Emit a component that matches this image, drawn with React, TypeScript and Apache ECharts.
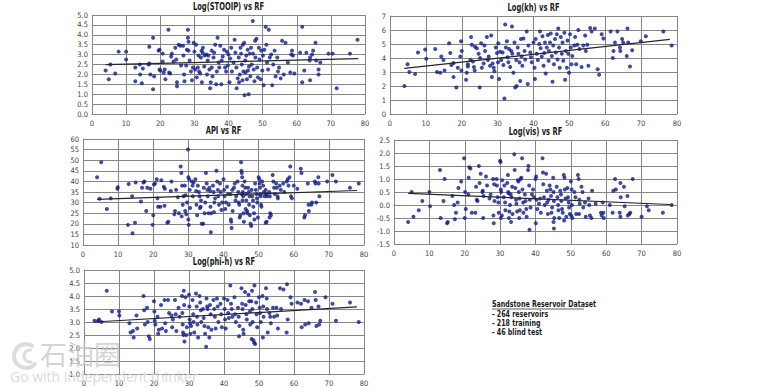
import React, { useEffect, useRef } from "react";
import * as echarts from "echarts";

const titles = ["Log(STOOIP) vs RF", "Log(kh) vs RF", "API vs RF", "Log(vis) vs RF", "Log(phi-h) vs RF"];
const xRange = [0, 80, 10];
const noteLines = ["Sandstone Reservoir Dataset", "- 264 reservoirs", "- 218 training", "- 46 blind test"];

const stooipData = [
  [4,2.2],[4.9,1.75],[5.4,2.5],[6.8,2.05],[7.8,3.15],[10,3.15],[10,2.75],[12.7,1.65],[12.7,2.35],[14,2.5],[14.1,2.0],[14.6,1.55],[14.9,2.3],
  [16.8,3.4],[16.6,2.5],[16.8,2.55],[17.1,2.0],[17.9,3.85],[17.9,1.25],[18.2,1.9],[19.5,3.2],[19.8,3.25],[19.8,2.25],[20,2.2],[20.7,3.05],
  [20.7,2.65],[21,2.1],[21.3,2.25],[21.5,1.75],[22.4,4.25],[22.6,2.1],[22.9,2.05],[23.2,2.9],[23.4,3.05],[23.9,2.65],[24.4,3.35],[24.7,2.75],
  [24.9,1.6],[24.9,1.4],[25.4,3.5],[25.9,3.45],[26.1,2.45],[26.7,3.45],[26.8,2.95],[27,2.0],[27.1,1.65],[27.6,2.45],[27.8,3.25],[28.1,4.25],
  [28.1,3.85],[28.3,3.65],[28.3,3.2],[28.6,2.7],[29,2.15],[29.3,1.7],[29.6,2.35],[29.8,3.6],[30,3.15],[30.2,2.25],[30.5,3.5],[30.7,1.85],
  [31,2.35],[31.2,2.95],[31.4,2.15],[31.7,2.05],[31.9,2.85],[32.1,3.2],[32.2,1.6],[32.4,3.1],[32.5,3.35],[32.9,2.4],[33,2.95],[33.5,3.0],
  [33.7,2.0],[33.9,2.7],[34.1,2.95],[34.4,2.25],[34.6,1.3],[34.8,1.6],[35.1,3.2],[35.1,2.35],[35.3,1.9],[35.6,2.85],[35.8,3.1],[36.1,3.5],
  [36.4,1.5],[36.6,2.15],[36.8,3.85],[37.1,2.6],[37.3,2.35],[37.6,3.45],[37.9,1.5],[38,2.7],[38.3,2.9],[38.7,3.25],[39,2.35],[39.3,2.15],
  [39.5,3.15],[39.8,2.45],[40,3.0],[40.3,1.6],[40.5,2.8],[40.8,3.35],[41,2.15],[41.5,2.6],[41.8,3.75],[42,3.1],[42.3,2.35],[42.4,1.3],
  [42.7,1.8],[43,2.85],[43.1,1.6],[43.3,2.0],[43.5,3.35],[43.7,3.05],[43.9,2.5],[44.1,1.7],[44.2,3.5],[44.4,2.15],[44.6,3.6],[44.7,0.95],
  [44.9,2.7],[45,2.1],[45.2,2.95],[45.4,1.75],[45.6,3.25],[45.7,2.2],[45.9,1.0],[46,2.4],[46.2,3.05],[46.4,1.9],[46.6,3.35],[46.8,2.5],
  [47.1,4.7],[47.2,3.05],[47.4,2.25],[47.6,1.65],[47.8,3.7],[47.9,2.85],[48.2,3.8],[48.4,2.35],[48.6,1.85],[48.9,3.35],[49.1,2.75],[49.4,1.75],
  [49.6,3.2],[49.9,2.2],[50.1,2.95],[50.3,1.45],[50.5,3.25],[50.9,4.4],[51.1,3.5],[51.3,2.6],[51.6,2.25],[51.8,4.25],[52.1,2.85],[52.5,3.0],
  [52.8,1.45],[53.1,2.5],[53.5,3.2],[53.8,1.9],[54.3,2.85],[54.5,2.15],[54.8,2.35],[55.3,1.8],[55.7,3.7],[56.2,2.0],[56.7,3.6],[57.4,2.6],
  [58.1,2.1],[58.4,3.0],[58.6,3.2],[58.9,2.95],[59.3,2.05],[61,3.1],[61.6,1.6],[61.6,4.4],[62.2,2.2],[62.8,3.1],[63.8,2.7],[63.9,2.85],
  [63.9,1.7],[64.5,3.0],[64.8,3.2],[65.5,3.6],[65.7,2.7],[66.4,2.0],[66.4,2.25],[66.9,2.6],[69.3,3.05],[70.5,3.05],[71.7,1.3],[75.6,3.05],[77.8,3.75]
];
const stooipTrend = [[4, 2.49], [78, 2.8]];

const khData = [
  [4,2.0],[4.9,3.55],[5.4,3.0],[7,2.85],[7.8,4.4],[9.8,4.6],[10.1,3.95],[12.6,4.65],[13.1,3.0],[14,2.95],[14.3,4.1],[14.9,3.85],[15.2,3.1],
  [16.5,5.05],[16.8,4.35],[17.1,3.5],[17.7,3.65],[17.7,2.65],[18.5,1.9],[18.9,3.3],[19.6,4.1],[19.8,5.2],[19.9,3.1],[20,4.5],[21.7,3.55],
  [21.2,2.45],[21.4,2.95],[21.7,3.4],[22.4,3.85],[22.6,5.5],[22.8,4.95],[23.1,3.75],[23.4,3.35],[23.6,3.1],[23.7,4.8],[24.2,4.7],[24.7,4.3],
  [25,1.9],[25.1,4.0],[25.4,5.05],[25.6,3.3],[26.1,3.6],[26.3,4.9],[26.5,4.5],[27,5.5],[27.3,3.85],[27.5,4.1],[27.9,3.45],[28.2,5.6],
  [28.4,2.65],[28.6,3.6],[28.9,3.3],[29.1,3.05],[29.5,4.75],[29.8,4.35],[30.1,3.7],[30.2,5.05],[30.4,2.5],[30.7,4.45],[31,3.85],[31.4,4.4],
  [31.6,3.5],[31.9,1.1],[32.1,6.4],[32.3,4.75],[32.6,5.2],[32.8,4.05],[33,3.7],[33.2,4.65],[33.5,3.35],[33.8,4.5],[34,6.25],[34.1,4.3],
  [34.4,2.95],[34.7,5.1],[34.9,1.9],[35.2,3.85],[35.3,2.0],[35.6,4.75],[35.8,4.3],[36.1,3.7],[36.3,2.35],[36.5,5.35],[36.7,4.1],[36.9,3.45],
  [37.2,5.4],[37.5,4.5],[37.7,3.9],[38.1,5.9],[38.4,2.15],[38.6,4.9],[39.1,4.4],[39.3,4.05],[39.5,3.7],[40,5.1],[40.3,3.3],[40.4,2.5],
  [40.6,5.35],[40.9,4.3],[41.2,3.85],[41.6,5.0],[41.8,5.9],[42,4.7],[42.3,4.1],[42.5,5.55],[42.8,3.45],[43,4.35],[43.2,5.1],[43.4,2.9],
  [43.7,4.75],[44,5.65],[44.2,3.8],[44.3,4.5],[44.6,5.1],[44.8,5.75],[45.1,4.15],[45.3,2.3],[45.5,4.9],[45.7,3.55],[46,5.35],[46.2,4.4],
  [46.5,5.7],[46.7,3.9],[46.9,6.1],[47.1,4.75],[47.3,3.3],[47.6,5.5],[47.9,4.3],[48.1,5.1],[48.3,3.8],[48.6,5.8],[48.8,2.45],[49,4.5],
  [49.3,3.3],[49.5,5.25],[49.7,4.3],[49.9,2.95],[50.2,5.7],[50.4,4.75],[50.6,3.55],[50.8,4.15],[51.4,4.9],[51.6,5.5],[51.9,3.55],[52.2,4.95],
  [52.5,6.0],[52.8,4.65],[53.4,3.35],[53.9,4.9],[54.4,5.6],[54.6,4.5],[55,4.95],[55.3,3.45],[55.8,6.15],[56.2,5.9],[57.1,6.1],[57.9,3.2],
  [58.3,2.8],[59,5.7],[59.5,5.4],[61.5,5.9],[62.1,4.0],[62.3,4.5],[62.7,5.1],[63.4,5.9],[64.1,4.75],[64.2,4.5],[64.7,5.35],[65,5.1],
  [66,4.15],[66.2,6.1],[66.4,5.1],[66.9,3.4],[67.5,4.55],[69.9,5.2],[71.3,5.55],[76.2,5.9],[78.5,4.9]
];
const khTrend = [[4, 3.26], [78, 5.33]];

const apiData = [
  [4,42],[4.7,31.8],[5.2,49],[6.8,27],[7.9,32],[9.8,36.5],[9.9,37.2],[12.8,19.5],[13,38.8],[14,33],[14.1,15.5],[14.8,20.5],[15,39.5],
  [16.5,30.5],[16.8,37],[17.2,39.5],[17.5,40],[18,26],[18.3,37],[19.2,36.5],[19.8,19.5],[20,24],[20.2,38.5],[20.5,39],[21,41],[21.2,32],
  [21.4,28],[22,28],[22.3,40.5],[23,37.5],[23.3,36.5],[23.2,28.5],[24,20.5],[24.3,21],[25,35.5],[25.2,40],[26,24.5],[26.2,26],[26.5,36],
  [27,32.5],[27.3,25],[27.8,47],[28,44],[28.2,38],[28.1,23.5],[28.4,29],[28.6,33],[29,38],[29.2,33.5],[29.1,26],[29.4,24.5],[29.6,30],
  [29.9,55],[30,42],[30.2,41],[30,22],[30.1,19.5],[30.4,36],[30.5,27.5],[31,40],[31.2,38],[31.5,39.5],[31.3,33],[32,41],[32.2,35.5],
  [32.3,29],[32.5,24],[32.7,38],[33,35],[33.2,33],[33.3,27.5],[33.5,28],[33.6,31],[33.8,20],[34.2,20],[34.4,37],[34.6,25],[34.8,30],
  [35,44],[35.2,39],[35.4,36],[35.5,33],[35.7,25],[36,37],[36.2,35.5],[36.3,28],[36.5,25],[36.4,16],[37,38],[37.2,35],[37.4,30],[37.6,32],
  [37.3,25.5],[38,45],[38.2,40],[38.4,36],[38.5,33],[38.7,29],[39,39],[39.2,35],[39.4,26.5],[39.6,30],[40,41],[40.2,36],[40.3,33],[40.5,27],
  [40.7,30],[41,37.5],[41.3,34],[41.5,29],[42,34],[42.1,22],[42.2,21],[42.3,18],[42.5,36],[42.6,26],[43,37],[43.2,39],[43.4,31],[43.6,33],
  [44,40],[44.2,35],[44.3,30],[44.5,29],[44.6,23],[44.8,24],[45,49],[45.1,45],[45.2,44],[45.3,42],[45.4,38],[45.5,35],[45.2,34],[45.6,33],
  [45.4,31],[45.7,25],[45.8,21],[46,40],[46.2,37],[46.4,34],[46.5,31],[46.3,27],[46.7,26],[46.8,25],[47,37],[47.2,35],[47.4,33],[47.3,29],
  [47.5,24],[47.7,20],[47.9,19],[48,36],[48.2,33],[48.4,31],[48.5,28],[48.7,25],[48.8,22],[49,39],[49.2,36],[49.4,34],[49.5,32],[49.6,30],
  [49.8,23],[50,42],[50.2,41],[50.3,39],[50.4,37],[50.5,34],[50.6,33],[50.7,29],[50.8,28],[51,40],[51.3,38],[51.5,35],[51.7,33],[52,36],
  [52.2,34],[52.4,33],[52,20.5],[52.3,21],[53,35],[53.2,33],[53.3,25],[53.5,24],[53.1,23],[54,43],[54.2,40],[54.4,37],[54.6,34],[55,39],
  [55.2,37],[55.4,33],[55.5,32],[56,38],[56.3,36],[57,39],[57.3,35],[58,40],[58.3,41],[58.5,38],[59,47],[58.8,42],[59.2,33],[59.5,32],
  [60,38],[61,36.5],[62,46],[62.2,44],[63,23],[63.2,24],[64,39],[64.2,29],[64.3,26],[65,29],[65.2,30],[66,40],[66.2,39],[66.4,30],[67,42],
  [67.1,39],[67.3,33],[69.5,40],[71,43],[72,40],[76,37],[78.5,39]
];
const apiTrend = [[4, 31.5], [78, 35.7]];

const visData = [
  [4,-0.65],[5,0.5],[5.5,-0.45],[7,-0.2],[8,0.15],[10,0.5],[10.2,-0.05],[13,1.35],[13.2,-0.5],[14,0.15],[14.3,1.0],[15,-0.7],[15.2,-0.65],
  [16.5,0.35],[17,0.0],[17.2,-0.55],[17.5,-0.3],[18,0.1],[18.2,0.65],[19,0.9],[19.8,1.8],[20,-0.5],[20.1,0.5],[20.3,-0.15],[21,0.4],
  [21.1,1.05],[21.3,1.45],[21.6,1.4],[22,-0.3],[23,-0.3],[23.2,0.7],[23.4,0.2],[23.6,0.15],[24,1.5],[24.2,0.85],[24.5,1.2],[25,0.5],
  [25.1,0.55],[25.3,0.35],[25.2,-0.5],[26,1.1],[26.3,0.75],[27,0.25],[27.3,0.4],[28,1.0],[28.1,-0.4],[28.3,0.8],[28.4,0.15],[28.2,-0.7],
  [29,1.0],[29.1,0.75],[29.3,0.3],[29.5,0.1],[29.6,-0.3],[30,1.7],[30.1,1.65],[30.2,0.6],[30.3,0.5],[30.2,-0.5],[30.5,-0.4],[30.6,0.95],
  [31,0.3],[31.2,0.75],[31.4,0.1],[31.5,-0.2],[32,0.85],[32.2,1.15],[32.3,0.5],[32.4,0.45],[32.5,-0.5],[32.6,-0.25],[32.8,0.0],[33,0.4],
  [33.2,0.3],[33.4,0.7],[33.5,-0.35],[33.1,-0.65],[34,1.95],[34.1,1.35],[34.3,0.65],[34.5,0.2],[34.6,0.05],[34.8,-0.25],[35,0.95],[35.2,0.9],
  [35.3,0.5],[35.5,0.25],[35.6,-0.2],[35.4,-0.5],[35.8,1.0],[36,1.05],[36.2,1.8],[36.3,0.6],[36.5,0.1],[36.6,-0.3],[37,0.4],[37.2,0.15],
  [37.4,-0.15],[37.5,-0.45],[38,1.5],[37.9,1.35],[38.2,0.75],[38.4,0.2],[38.3,-0.95],[38.6,-0.1],[39,0.4],[39.3,0.6],[39.6,0.3],[40,1.0],
  [40.2,1.1],[40.3,0.2],[40.5,-0.15],[40.1,-0.7],[41,0.05],[41.3,0.25],[41.5,-0.3],[42,1.8],[42.1,1.25],[42.2,0.8],[42.4,0.3],[42.6,0.0],
  [43,1.2],[43.2,0.55],[43.3,0.1],[43.5,-0.35],[43.7,0.2],[44,0.75],[44.2,0.6],[44.4,0.35],[44.5,-0.3],[44.7,-0.1],[45,1.05],[45.1,0.5],
  [45.2,0.15],[45.3,-0.5],[45.1,-0.65],[45.2,-0.9],[46,0.7],[46.2,0.3],[46.4,0.0],[46.5,-0.2],[46.7,-0.5],[47,0.55],[47.2,0.4],[47.3,0.15],
  [47.5,-0.15],[47.7,-0.3],[48,1.15],[48.2,1.05],[48.3,0.6],[48.5,0.25],[48.1,-0.6],[48.7,-0.45],[49,0.65],[49.2,0.3],[49.4,0.1],[49.5,-0.1],
  [49.7,-0.35],[50,0.9],[50.2,0.6],[50.3,0.0],[50.1,-0.4],[50.4,-0.5],[51,0.5],[51.3,0.3],[51.5,-0.35],[52,1.15],[52.2,1.0],[52.4,0.2],
  [52.5,0.05],[52.3,-0.35],[53,0.7],[53.3,0.5],[53.5,-0.1],[54,0.1],[54.2,-0.45],[55,0.25],[55.2,0.0],[55.4,-0.4],[56,0.55],[55.8,-0.5],
  [57,0.05],[58.5,-0.3],[58.7,-0.4],[59,0.1],[59.2,-0.3],[59.3,-0.5],[61,0.0],[62,0.55],[61.8,-0.3],[62.5,1.0],[62.7,0.6],[64,0.85],
  [64.1,0.3],[63.8,-0.3],[64,-0.45],[65,0.7],[65.2,-0.05],[66,0.35],[66.1,-0.4],[66.5,-0.35],[66.8,-0.3],[67.5,1.0],[70,-0.45],[71.5,-0.05],
  [72,-0.2],[76,-0.3],[78.5,0.0]
];
const visTrend = [[4, 0.45], [78, 0.02]];

const phiData = [
  [3,3.05],[4,3.05],[4.3,3.1],[5,3.0],[6.5,4.2],[8,3.4],[10,3.4],[10.1,3.25],[13,2.95],[13.3,2.6],[14,2.65],[14.2,2.4],[15,3.25],[15.2,2.75],
  [17,4.0],[17.2,3.45],[17.4,2.9],[18,3.55],[18.2,3.0],[18.5,2.45],[18.8,2.35],[20,3.8],[20.1,3.4],[20.2,3.05],[20.4,2.9],[21,3.2],[21.2,2.55],
  [21.4,2.7],[22,3.65],[22.3,2.75],[23,3.85],[23.2,2.95],[23.4,2.65],[24,3.85],[24.3,3.35],[25,3.25],[25.2,2.8],[25.4,3.1],[26,3.85],
  [26.2,3.3],[26.4,2.65],[27,3.55],[27.3,3.2],[28,4.0],[28.1,3.35],[28.2,2.9],[28.3,2.6],[28.5,4.2],[28.6,3.65],[28.4,2.5],[28.7,2.25],
  [29,3.95],[29.2,2.5],[29.4,2.8],[30,4.05],[30.1,3.6],[30.2,3.1],[30.3,2.95],[30.4,2.55],[30.6,2.85],[31,3.85],[31.2,3.3],[31.3,3.0],
  [31.5,2.6],[32,4.1],[32.2,3.6],[32.3,3.2],[32.4,2.9],[32.6,2.4],[33,4.0],[33.2,3.75],[33.4,3.45],[33.5,3.0],[34,3.5],[34.2,3.15],
  [34.4,2.85],[34.6,2.55],[35,3.9],[35.2,3.6],[35.3,3.5],[35.5,2.8],[34.9,2.05],[36,3.65],[36.2,3.3],[36.4,2.7],[35.8,2.4],[37,3.85],
  [37.2,3.5],[37.4,3.2],[37.6,2.75],[38,3.9],[38.2,3.6],[38.4,3.0],[39,3.7],[39.2,3.3],[39.4,2.8],[40,3.9],[40.2,3.5],[40.3,3.1],[40.5,2.75],
  [41,3.85],[41.2,3.35],[41.4,3.15],[41.8,4.4],[42,3.7],[42.2,3.5],[42.4,3.2],[43,3.95],[43.2,3.3],[43.4,3.0],[44,3.55],[44.2,3.2],
  [44.4,2.85],[44.3,2.45],[45,4.3],[45.2,3.7],[45.3,3.5],[45.5,2.7],[45.6,2.55],[46,4.15],[46.2,3.65],[46.4,3.3],[46.5,3.1],[47,4.05],
  [47.2,3.8],[47.4,3.4],[47.5,2.9],[48,4.2],[47.8,3.8],[48.1,3.5],[48.2,3.0],[47.9,2.35],[48.7,4.4],[48.4,2.3],[48.6,2.2],[48.9,2.15],
  [49.2,3.75],[49.3,3.3],[49.5,2.8],[50,3.95],[50.2,3.55],[50.3,3.35],[50.5,3.0],[51,4.0],[51.2,3.6],[51.3,3.2],[51.1,2.4],[52,4.3],
  [52.2,3.9],[52.3,3.5],[52.5,2.6],[53,3.35],[53.2,3.2],[53.4,2.95],[54,3.55],[54.3,3.2],[55,3.55],[55.2,3.25],[55.4,2.75],[56,4.3],
  [56.3,3.5],[57,4.25],[58,4.45],[58.2,3.1],[57.9,2.6],[59,3.95],[59.3,3.7],[61,3.75],[62,3.7],[62.2,2.8],[63,3.85],[63.2,2.9],[64,3.8],
  [64.2,2.95],[65,3.55],[66,4.15],[66.2,3.85],[66.4,2.85],[67,3.6],[67.2,2.9],[67.5,3.05],[69,3.95],[71,3.7],[72,3.05],[76,3.75],[78.5,3.0]
];
const phiTrend = [[3, 3.0], [78, 3.58]];

const panelData = [stooipData, khData, apiData, visData, phiData];
const panelTrend = [stooipTrend, khTrend, apiTrend, visTrend, phiTrend];
const yRanges = [[0, 5, 0.5, 1], [0, 7, 1, 0], [10, 60, 5, 0], [-1.5, 2.5, 0.5, 1], [1, 5, 0.5, 1]];

const grids = [
  { left: 92, top: 15, width: 273, height: 99 },
  { left: 390, top: 16, width: 287, height: 98 },
  { left: 83, top: 139, width: 281, height: 106 },
  { left: 394, top: 140, width: 283, height: 104 },
  { left: 84, top: 270, width: 280, height: 104 },
];

const FONT = "'DejaVu Sans Condensed', 'Liberation Sans Narrow', sans-serif";
const DOT = "#101d88";

export default function App() {
  const ref = useRef<HTMLDivElement>(null);
  useEffect(() => {
    if (!ref.current) return;
    const chart = echarts.init(ref.current, null, { renderer: "svg" });
    const xAxis: any[] = [];
    const yAxis: any[] = [];
    const series: any[] = [];
    const graphic: any[] = [];
    grids.forEach((g, i) => {
      const [ymin, ymax, yint, dec] = yRanges[i];
      xAxis.push({
        type: "value", gridIndex: i, min: xRange[0], max: xRange[1], interval: xRange[2],
        axisLine: { show: true, lineStyle: { color: "#888", width: 1 } },
        axisTick: { show: false },
        axisLabel: { fontFamily: FONT, fontSize: 7.5, color: "#444", margin: 5 },
        splitLine: { show: true, lineStyle: { color: "#858585", width: 1 } },
      });
      yAxis.push({
        type: "value", gridIndex: i, min: ymin, max: ymax, interval: yint,
        axisLine: { show: true, lineStyle: { color: "#888", width: 1 } },
        axisTick: { show: false },
        axisLabel: { fontFamily: FONT, fontSize: 7.5, color: "#444", margin: 4, formatter: (v: number) => v.toFixed(dec) },
        splitLine: { show: true, lineStyle: { color: "#858585", width: 1 } },
      });
      series.push({
        type: "scatter", xAxisIndex: i, yAxisIndex: i, data: panelData[i],
        symbol: "circle", symbolSize: 4, itemStyle: { color: DOT }, z: 3,
      });
      series.push({
        type: "line", xAxisIndex: i, yAxisIndex: i, data: panelTrend[i],
        symbol: "none", lineStyle: { color: "#262626", width: 1.2 }, z: 4,
      });
      graphic.push({
        type: "text", x: g.left + g.width / 2, y: g.top - 3, scaleX: 0.75,
        style: { text: titles[i], fontFamily: FONT, fontSize: 10, fontWeight: "bold", fill: "#1a1a1a", align: "center", verticalAlign: "bottom" },
      });
    });
    noteLines.forEach((t, i) => {
      graphic.push({
        type: "text", x: 492, y: 299 + i * 9.3, scaleX: 0.74,
        style: { text: t, fontFamily: FONT, fontSize: 9.5, fontWeight: "bold", fill: "#1a1a1a" },
      });
    });
    graphic.push({ type: "line", shape: { x1: 492, y1: 309, x2: 584, y2: 309 }, style: { stroke: "#333", lineWidth: 0.8 } });
    // watermark
    graphic.push({ type: "arc", shape: { cx: 26, cy: 356, r: 12, startAngle: 0.6, endAngle: 5.4 }, style: { fill: "none", stroke: "#d4d4d4", lineWidth: 4, opacity: 0.8 }, z: 10 });
    graphic.push({ type: "arc", shape: { cx: 30, cy: 356, r: 6, startAngle: 1.2, endAngle: 5.0 }, style: { fill: "none", stroke: "#d4d4d4", lineWidth: 3, opacity: 0.8 }, z: 10 });
    graphic.push({ type: "text", x: 40, y: 340, style: { text: "石油圈", fontFamily: "'Noto Sans CJK SC', sans-serif", fontSize: 27, fill: "#c9c9c9", opacity: 0.8 }, z: 10 });
    graphic.push({ type: "text", x: 10, y: 369, style: { text: "Go with independent thinker", fontFamily: "'Open Sans', sans-serif", fontSize: 14, fill: "#d2d2d2", opacity: 0.85 }, z: 10 });

    chart.setOption({
      animation: false,
      backgroundColor: "#ffffff",
      grid: grids.map((g) => ({ ...g, containLabel: false })),
      xAxis, yAxis, series, graphic,
    });
    return () => chart.dispose();
  }, []);
  return <div ref={ref} style={{ position: "fixed", left: 0, top: 0, width: 775, height: 388 }} />;
}
